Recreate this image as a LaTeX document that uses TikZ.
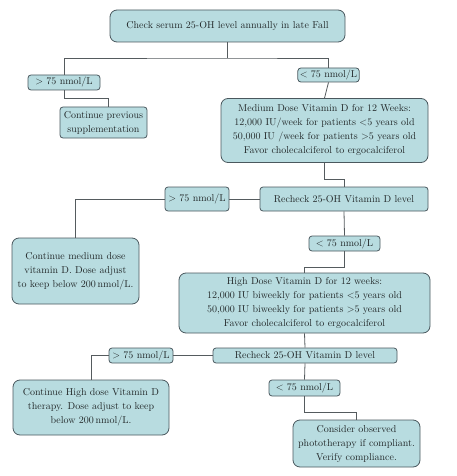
\documentclass[tikz,border=0pt]{standalone}
\usepackage{tikz}
\usetikzlibrary{positioning,calc}
\definecolor{boxfill}{HTML}{B8DCE0}
\definecolor{boxline}{HTML}{4A585E}
\definecolor{linkline}{HTML}{555B5E}
\definecolor{txt}{HTML}{222829}

\begin{document}
\begin{tikzpicture}[
        x=1pt,y=-1pt,
        box/.style={draw=boxline,fill=boxfill,rounded corners=7pt,line width=0.8pt,text=txt,
          font=\fontsize{10}{14}\selectfont,align=center,inner sep=2pt},
        lbl/.style={box,rounded corners=3pt},
        link/.style={draw=linkline,line width=0.8pt}
      ]
      \useasboundingbox (0,0) rectangle (457,476);

      \node[box,minimum width=235pt,minimum height=32pt] (check) at (227.5,26) {Check serum 25-OH level annually in late Fall};
      \node[lbl,minimum width=72pt,minimum height=15pt] (gtA) at (64,82.5) {> 75 nmol/L};
      \node[lbl,minimum width=55pt,minimum height=14pt] (ltA) at (328.5,75) {< 75 nmol/L};
      \node[box,rounded corners=3pt,minimum width=87pt,minimum height=31pt] (contPrev) at (103.5,122.5) {Continue previous\\supplementation};
      \node[box,minimum width=207pt,minimum height=64pt] (medium) at (324.5,130.5) {Medium Dose Vitamin D for 12 Weeks:\\12,000 IU/week for patients <5 years old\\50,000 IU /week for patients >5 years old\\Favor cholecalciferol to ergocalciferol};

      \node[lbl,minimum width=168pt,minimum height=24pt] (recheckA) at (344,199) {Recheck 25-OH Vitamin D level};
      \node[lbl,minimum width=64pt,minimum height=24pt] (gtB) at (197,199) {> 75 nmol/L};
      \node[box,minimum width=127pt,minimum height=66pt] (contMed) at (75.5,271) {Continue medium dose\\vitamin D. Dose adjust\\to keep below 200\,nmol/L.};
      \node[lbl,minimum width=71pt,minimum height=15pt] (ltB) at (344.5,243.5) {< 75 nmol/L};
      \node[box,minimum width=251pt,minimum height=60pt] (high) at (304.5,303) {High Dose Vitamin D for 12 weeks:\\12,000 IU biweekly for patients <5 years old\\50,000 IU biweekly for patients >5 years old\\Favor cholecalciferol to ergocalciferol};

      \node[lbl,minimum width=184pt,minimum height=15pt] (recheckB) at (305,355.5) {Recheck 25-OH Vitamin D level};
      \node[lbl,minimum width=64pt,minimum height=15pt] (gtC) at (141,355.5) {> 75 nmol/L};
      \node[box,minimum width=156pt,minimum height=55pt] (contHigh) at (91,407.5) {Continue High dose Vitamin D\\therapy. Dose adjust to keep\\below 200\,nmol/L.};
      \node[lbl,minimum width=71pt,minimum height=16pt] (ltC) at (304.5,388) {< 75 nmol/L};
      \node[box,minimum width=127pt,minimum height=47pt] (consider) at (356.5,443.5) {Consider observed\\phototherapy if compliant.\\Verify compliance.};

      % first split
      \coordinate (split) at (check.south |- 0,58);
      \draw[link] (check.south) -- (split);
      \draw[link] (gtA.north) |- (split) -| (ltA.north);
      \draw[link] (gtA.south) -- ++(0,8) -| ([xshift=4.5pt]contPrev.north);
      \draw[link] (ltA.south) -- (medium.north);

      % first recheck
      \draw[link] (medium.south) -- ++(0,16) -| (recheckA.north);
      \draw[link] (recheckA.west) -- (gtB.east);
      \draw[link] (gtB.west) -| (contMed.north);
      \draw[link] (recheckA.south) -- (ltB.north);
      \draw[link] (ltB.south) -- ++(0,16) -| (high.north);

      % second recheck
      \draw[link] (high.south) -- (recheckB.north);
      \draw[link] (recheckB.west) -- (gtC.east);
      \draw[link] (gtC.west) -| (contHigh.north);
      \draw[link] (recheckB.south) -- (ltC.north);
      \draw[link] (ltC.south) -- ++(0,16) -| (consider.north);
    \end{tikzpicture}
\end{document}
